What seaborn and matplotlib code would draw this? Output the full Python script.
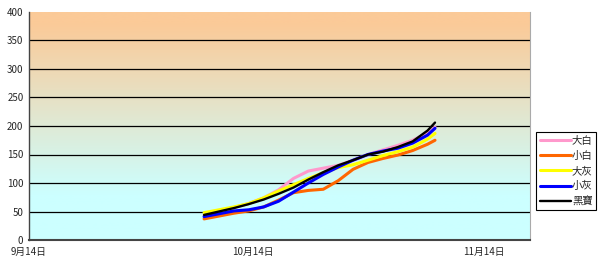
import numpy as np
import pandas as pd
import matplotlib
matplotlib.use("Agg")
import matplotlib.pyplot as plt
import seaborn as sns

# ---- data ----
start_date = "2009-09-14"
dates = ["2009-10-07", "2009-10-09", "2009-10-11", "2009-10-13", "2009-10-15",
         "2009-10-17", "2009-10-19", "2009-10-21", "2009-10-23", "2009-10-25",
         "2009-10-27", "2009-10-29", "2009-10-31", "2009-11-02", "2009-11-04",
         "2009-11-06", "2009-11-07"]
series_names = ["大白", "小白", "大灰", "小灰", "黑寶"]
da_bai = [44, 50, 57, 64, 74, 88, 108, 121, 126, 131, 140, 150, 158, 166, 175, 188, 198]
xiao_bai = [37, 42, 47, 51, 58, 70, 83, 87, 89, 104, 124, 136, 143, 149, 157, 168, 175]
da_hui = [48, 53, 58, 64, 74, 86, 97, 108, 118, 127, 132, 140, 148, 155, 163, 177, 187]
xiao_hui = [41, 46, 51, 53, 58, 68, 84, 100, 115, 128, 140, 150, 156, 161, 170, 184, 196]
hei_bao = [44, 50, 56, 63, 71, 81, 92, 106, 119, 131, 140, 150, 155, 163, 173, 192, 206]
tick_dates = ["2009-09-14", "2009-10-14", "2009-11-14"]
tick_labels = ["9月14日", "10月14日", "11月14日"]
y_ticks = [0, 50, 100, 150, 200, 250, 300, 350, 400]

colors = ["#FF99CC", "#FF6600", "#FFFF00", "#0000FF", "#000000"]

# ---- build frame ----
t0 = pd.Timestamp(start_date)
days = np.array([(pd.Timestamp(d) - t0).days for d in dates], dtype=float) + 0.5
rows = []
for name, vals in zip(series_names, [da_bai, xiao_bai, da_hui, xiao_hui, hei_bao]):
    for x, v in zip(days, vals):
        rows.append({"day": x, "value": v, "series": name})
df = pd.DataFrame(rows)

sns.set_style("white")
plt.rcParams["font.family"] = ["Noto Sans CJK TC", "DejaVu Sans"]

fig = plt.figure(figsize=(6.0, 2.65), dpi=100)
ax = fig.add_axes([29 / 600, 1 - 240 / 265, (530 - 29) / 600, (240 - 12) / 265])

xmax = 67.25
# gradient background
vals = np.linspace(0, 400, 400)
t = np.clip((vals - 80) / 300.0, 0, 1)[:, None]
cyan = np.array([204, 255, 255]) / 255
peach = np.array([251, 202, 152]) / 255
img = cyan * (1 - t) + peach * t
ax.imshow(img[:, None, :], extent=[0, xmax, 0, 400], origin="lower",
          aspect="auto", zorder=0)

for y in y_ticks[1:-1]:
    ax.axhline(y, color="black", lw=0.9, zorder=1)

lws = [2.2, 2.2, 2.2, 2.2, 1.7]
for name, c, lw in zip(series_names, colors, lws):
    sns.lineplot(data=df[df["series"] == name], x="day", y="value", color=c,
                 lw=lw, ax=ax, label=name, zorder=3, legend=False)

ax.set_xlim(0, xmax)
ax.set_ylim(0, 400)
ax.set_yticks(y_ticks)
ax.set_yticklabels([str(v) for v in y_ticks], fontsize=7)
tick_pos = [(pd.Timestamp(d) - t0).days for d in tick_dates]
ax.set_xticks(tick_pos)
ax.set_xticklabels(tick_labels, fontsize=7)
ax.tick_params(axis="y", length=0, pad=4)
ax.tick_params(axis="x", direction="in", length=3, pad=5, color="#333333")
ax.set_xlabel("")
ax.set_ylabel("")
ax.spines["top"].set_visible(False)
ax.spines["right"].set_color("#aaaaaa")
ax.spines["right"].set_linewidth(0.8)
ax.spines["left"].set_color("#444444")
ax.spines["left"].set_linewidth(1.0)
ax.spines["bottom"].set_color("#444444")
ax.spines["bottom"].set_linewidth(1.5)

handles, labels = ax.get_legend_handles_labels()
leg = fig.legend(handles, labels, loc="upper left",
                 bbox_to_anchor=(536 / 600, 1 - 132 / 265),
                 fontsize=7.5, frameon=True, fancybox=False, framealpha=1,
                 edgecolor="black", handlelength=3.0, handletextpad=0.1,
                 borderpad=0.35, labelspacing=0.5, borderaxespad=0)
leg.get_frame().set_linewidth(0.8)

fig.savefig("out.png", dpi=100)
